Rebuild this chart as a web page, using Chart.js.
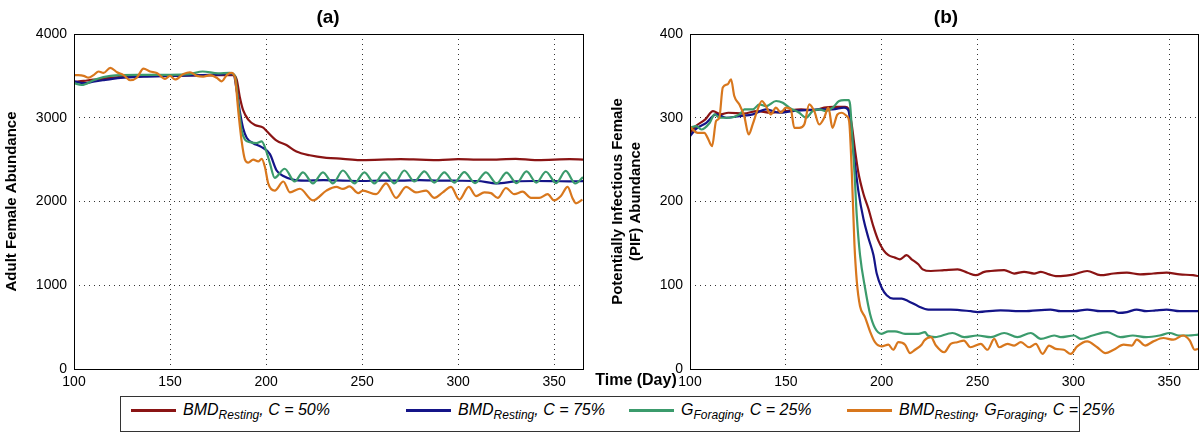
<!DOCTYPE html>
<html lang="en">
<head>
  <meta charset="UTF-8">
  <title>Adult and PIF abundance</title>
  <script src="https://cdn.jsdelivr.net/npm/chart.js"></script>
  <style>
    body {
      margin: 0;
      background: #fff;
      width: 1200px;
      height: 432px;
      position: relative;
      overflow: hidden;
      font-family: "Liberation Sans", Arial, sans-serif;
    }
    canvas {
      position: absolute;
      top: 0;
    }
    .panel-title {
      position: absolute;
      width: 200px;
      text-align: center;
      font-weight: bold;
      font-size: 19px;
      line-height: 20px;
      top: 7px;
    }
    .x-title {
      position: absolute;
      left: 536px;
      width: 200px;
      top: 371px;
      text-align: center;
      font-weight: bold;
      font-size: 16px;
      line-height: 18px;
    }
    .legend {
      position: absolute;
      left: 120px;
      top: 396px;
      width: 958px;
      height: 34px;
      border: 1px solid #333;
      font-family: "Liberation Sans Narrow", "Liberation Sans", Arial, sans-serif;
      font-style: italic;
      font-size: 16px;
    }
    .item {
      position: absolute;
      top: 4px;
      white-space: nowrap;
    }
    .item .swatch {
      display: inline-block;
      width: 45px;
      height: 3px;
      vertical-align: middle;
      margin-right: 7px;
    }
    .item sub {
      font-size: 12px;
    }
  </style>
</head>
<body>
  <canvas id="chartA" width="600" height="391" style="left:0px"></canvas>
  <canvas id="chartB" width="600" height="391" style="left:600px"></canvas>

  <div class="panel-title" style="left:228px">(a)</div>
  <div class="panel-title" style="left:846px">(b)</div>
  <div class="x-title">Time (Day)</div>

  <div class="legend" id="legend"></div>

  <script>
    // eixos
    const xTicks = [100, 150, 200, 250, 300, 350];
    const yTicksA = [0, 1000, 2000, 3000, 4000];
    const yTicksB = [0, 100, 200, 300, 400];

    const seriesLabels = [
      'BMD<sub>Resting</sub>, C = 50%',
      'BMD<sub>Resting</sub>, C = 75%',
      'G<sub>Foraging</sub>, C = 25%',
      'BMD<sub>Resting</sub>, G<sub>Foraging</sub>, C = 25%'
    ];
    const seriesColors = ['#8a1414', '#141488', '#3b9b6c', '#d8771d'];

    // (a) Adult female abundance
    const aRedDays = [100,105,110,115,120,130,140,150,160,170,180,183,184.7,186.4,188.1,190.7,194.2,198.5,200,205.5,210.6,215.8,222.7,231.4,240,248.7,260,270,280,290,300,310,320,330,340,350,358,365];
    const aRedVals = [3430,3440,3455,3465,3480,3495,3500,3500,3505,3505,3510,3510,3457,3239,3087,2978,2913,2883,2848,2726,2674,2596,2552,2522,2510,2495,2500,2505,2500,2495,2505,2500,2500,2510,2495,2500,2505,2500];

    const aBlueDays = [100,105,110,115,120,126,136,150,167,175,181,183,184.7,186.4,188.1,189.9,193.3,197.5,202,205.5,209,214,220,230,240,250,260,270,280,290,300,310,320,330,340,350,358,365];
    const aBlueVals = [3435,3413,3430,3448,3465,3478,3491,3500,3509,3515,3522,3522,3326,3065,2870,2761,2696,2652,2565,2370,2304,2261,2250,2255,2250,2245,2250,2250,2255,2250,2248,2245,2217,2240,2245,2243,2240,2243];

    const aGreenDays = [100,104,111,119,133,150,160,167,175,181,183.8,185.6,187.3,189,191.6,195,197.7,200.3,202,204.5,209.7,214.9,219.2,224.4,229.6,234.8,240,246,251.2,256.4,261.6,266.8,272,277.2,282.4,287.6,292.8,298,303.2,308.8,314.5,320,325.2,330.4,335.6,340.7,345.7,351,356,361,365];
    const aGreenVals = [3413,3391,3457,3500,3513,3513,3520,3552,3530,3535,3500,3152,2848,2739,2709,2696,2717,2587,2457,2283,2391,2239,2348,2217,2348,2217,2370,2217,2348,2217,2348,2217,2370,2239,2360,2225,2348,2225,2350,2220,2348,2215,2345,2220,2360,2225,2355,2220,2365,2215,2290];

    const aOrangeDays = [100,101.6,105,107.6,110.2,112.8,115.4,118.9,122.4,125.8,129.3,132.7,136.2,139.6,143.1,147.4,150,152.6,157,160.4,163.9,167.3,170.8,174.3,176.9,179.5,182,183.8,185.6,187.3,189,190.7,193.3,195.9,197.7,199.4,201.1,204.5,209,212.4,217.6,224.4,231.4,236.6,240,243.5,248,250.4,257.3,262.5,267.7,272.9,278,283.3,287.6,292,296.3,300.6,305.5,309.3,313.6,317.1,320.6,324.9,329.2,333.6,337.9,342.2,346.6,350,353.5,357,359.5,361.3,364.7];
    const aOrangeVals = [3510,3509,3500,3478,3509,3552,3535,3596,3543,3509,3448,3478,3587,3552,3535,3465,3500,3457,3522,3543,3500,3491,3509,3478,3435,3509,3535,3478,3065,2717,2500,2465,2500,2478,2509,2413,2217,2130,2239,2109,2152,2013,2130,2174,2150,2180,2100,2130,2087,2217,2043,2174,2109,2130,2043,2109,2174,2022,2174,2065,2109,2100,2043,2161,2087,2117,2043,2043,2087,2013,2065,2174,2043,1978,2022];

    // (b) Potentially infectious female (PIF) abundance
    const bRedDays = [100,103,108,112,116,120,128,135,142,150,158,165,170,175,180.9,182.6,184.4,186.1,187.8,190.5,193,195.7,198.3,200.9,203.5,206.9,209.5,213,215.6,219.1,221.4,225.7,232.6,239.6,244.8,249.1,253.5,256.9,263.9,269.1,274.3,279.5,283,287.3,290.8,293.4,300.3,307.2,314.1,321,327.9,334.8,341.7,348.6,355.5,362.4,365];
    const bRedVals = [282,290,298,308,304,306,305,308,306,308,310,309,312,313,313,311,291,261,235,209,192,170,153,142,136,133,131,136,131,125,119,117,118,119,115,112,116,117,118,114,116,114,116,113,111,111,113,117,112,114,115,113,114,115,113,112,111];

    const bBlueDays = [100,103.3,108.5,113.7,118.9,125.8,132.8,139.7,146.6,153.6,160.5,167.4,174.4,180.4,182.6,184.4,186.1,187.8,190.5,193,195.7,197.4,200,202.6,206,210.4,213.9,219.1,224.3,229.5,236,246.5,250,262,274,288,293.4,300.3,307.2,314.1,321,323.6,328,333,338,343,348.6,355.5,362.4,365];
    const bBlueVals = [278,287,294,304,300,302,304,310,306,308,309,310,310,312,309,278,244,213,179,157,136,114,97,88,84,84,81,75,71,71,71,69,68,70,69,71,69,69,71,69,69,67,68,71,69,70,71,69,69,69];

    const bGreenDays = [100,103.3,105.9,110.3,112.8,115.4,120.6,125.8,128.4,132.8,136.2,139.7,144.9,148.4,151.8,157,160.5,164,167.4,170.9,174.4,177.8,180.4,182.7,183.5,184.4,185.8,187,188.7,191.3,193.9,196.5,200,203.5,206.9,212.2,219.1,222.6,224,227.8,236.9,243,250,257,263.9,270.8,277.8,283,290,293.4,300.3,303.8,310,317.6,324.5,331,338,345,350.3,355,360,365];
    const bGreenVals = [288,290,286,294,304,300,300,304,310,310,316,314,320,318,312,306,300,308,310,308,312,320,321,321,316,287,235,183,136,97,66,49,42,45,45,42,42,44,40,38,43,38,40,38,43,38,43,36,40,38,40,36,40,44,38,40,38,40,43,40,40,41];

    const bOrangeDays = [100,101.4,104,107.5,109.2,111.5,113.6,115.3,117.1,119.7,121.4,123.1,125.7,128.3,130.6,132.7,135.3,137.5,139.6,142.2,144.8,147.4,150,152.6,154.4,157,159.6,162.2,164.8,167.4,170,172.2,174.3,176.9,179.2,181.8,183,184.4,185.8,187,188.7,191.3,193.9,196.5,200,203.5,206,208.7,212.2,214.8,217.4,220.8,222.2,225.7,228.3,232.6,236,239.4,242.9,246.3,251.7,255.2,258.7,261.3,265.6,269.1,272.6,276.9,280.4,283.9,287.3,290.8,295,298.6,302,307.2,312.4,316.7,321,326.2,330.5,333.1,337.4,341.7,346.9,352.1,357.2,360.7,363.3,365];
    const bOrangeVals = [290,286,282,282,276,266,296,300,336,340,346,326,316,302,280,292,310,320,314,304,312,306,312,310,288,288,292,316,308,292,300,312,288,304,306,302,296,235,148,105,75,62,45,32,27,29,23,32,29,19,23,29,34,38,28,20,30,32,34,26,30,23,36,26,30,28,32,26,30,18,28,24,23,18,27,33,26,19,23,29,28,35,28,33,37,35,40,34,23,24];

    const tickFont = { family: 'Liberation Sans', size: 14 };
    const titleFont = { family: 'Liberation Sans', size: 15, weight: 'bold' };

    // caixa em volta da área do gráfico (estilo matlab)
    const boxPlugin = {
      id: 'box',
      afterDraw(chart) {
        const a = chart.chartArea;
        const ctx = chart.ctx;
        ctx.save();
        ctx.strokeStyle = '#000';
        ctx.lineWidth = 1;
        ctx.strokeRect(Math.round(a.left) + 0.5, Math.round(a.top) + 0.5, Math.round(a.right - a.left), Math.round(a.bottom - a.top));
        ctx.restore();
      }
    };

    function montarSeries(pares) {
      return pares.map((p, i) => ({
        label: seriesLabels[i].replace(/<[^>]+>/g, ''),
        data: p[0].map((d, k) => ({ x: d, y: p[1][k] })),
        borderColor: seriesColors[i],
        borderWidth: 2.2,
        pointRadius: 0,
        fill: false,
        cubicInterpolationMode: 'monotone',
        order: pares.length - i
      }));
    }

    function criarGrafico(id, datasets, yTicks, yTitle, yWidth, padRight, titlePad) {
      return new Chart(document.getElementById(id), {
        type: 'line',
        data: { datasets },
        options: {
          responsive: false,
          animation: false,
          devicePixelRatio: 1,
          layout: { padding: { top: 34, right: padRight, left: 0, bottom: 0 } },
          plugins: { legend: { display: false }, tooltip: { enabled: false } },
          scales: {
            x: {
              type: 'linear',
              min: 100,
              max: 365,
              afterBuildTicks: s => { s.ticks = xTicks.map(v => ({ value: v })); },
              afterFit: s => { s.height = 22; },
              grid: { color: '#333', drawTicks: false },
              border: { display: false, dash: [1, 4] },
              ticks: { font: tickFont, color: '#000', padding: 5, maxRotation: 0, autoSkip: false, callback: v => String(v) }
            },
            y: {
              min: yTicks[0],
              max: yTicks[yTicks.length - 1],
              afterBuildTicks: s => { s.ticks = yTicks.map(v => ({ value: v })); },
              afterFit: s => { s.width = yWidth; },
              grid: { color: '#333', drawTicks: false },
              border: { display: false, dash: [1, 4] },
              ticks: { font: tickFont, color: '#000', padding: 7, autoSkip: false, callback: v => String(v) },
              title: { display: true, text: yTitle, font: titleFont, color: '#000', padding: { top: titlePad, bottom: 0 } }
            }
          }
        },
        plugins: [boxPlugin]
      });
    }

    criarGrafico('chartA', montarSeries([
      [aRedDays, aRedVals], [aBlueDays, aBlueVals], [aGreenDays, aGreenVals], [aOrangeDays, aOrangeVals]
    ]), yTicksA, 'Adult Female Abundance', 74, 17, 3);

    criarGrafico('chartB', montarSeries([
      [bRedDays, bRedVals], [bBlueDays, bBlueVals], [bGreenDays, bGreenVals], [bOrangeDays, bOrangeVals]
    ]), yTicksB, ['Potentially Infectious Female', '(PIF) Abundance'], 90, 2, 9);

    // legenda
    const legendX = [10, 285, 508, 726];
    const legend = document.getElementById('legend');
    seriesLabels.forEach((txt, i) => {
      const item = document.createElement('div');
      item.className = 'item';
      item.style.left = legendX[i] + 'px';
      item.innerHTML = '<span class="swatch" style="background:' + seriesColors[i] + '"></span>' + txt;
      legend.appendChild(item);
    });
  </script>
</body>
</html>
